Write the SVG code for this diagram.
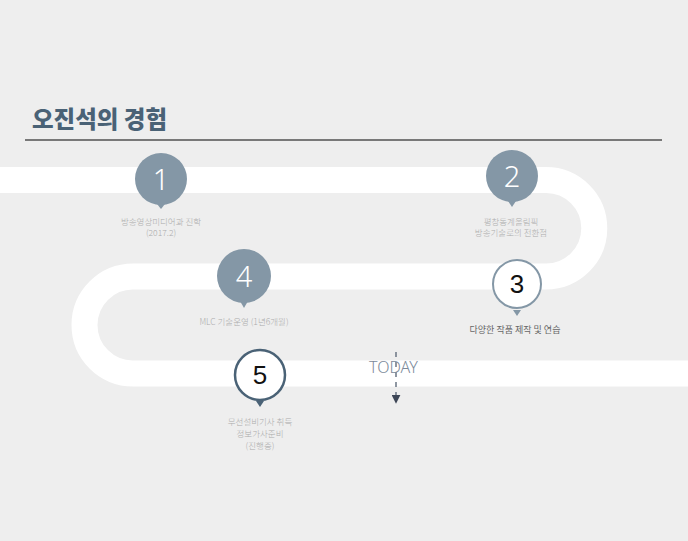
<svg xmlns="http://www.w3.org/2000/svg" width="688" height="541" viewBox="0 0 688 541">
<defs>
<style>
.title{font-family:"Noto Sans CJK KR","Noto Sans",sans-serif;font-weight:900;font-size:23.5px;fill:#4a6276}
.pinA{fill:#8497a6}
.pinB{fill:#ffffff;stroke:#8497a6;stroke-width:2}
.pinC{fill:#ffffff;stroke:#4a6276;stroke-width:2.5}
.numW{font-family:"Noto Sans","Noto Sans CJK KR",sans-serif;font-weight:300;font-size:29px;fill:#ffffff;text-anchor:middle}
.numB{font-family:"Liberation Sans","Noto Sans",sans-serif;font-size:26px;fill:#111111;text-anchor:middle}
.cap{font-family:"Noto Sans CJK KR","Noto Sans",sans-serif;font-size:8.5px;fill:#ababab;text-anchor:middle;font-weight:300}
.capD{font-family:"Noto Sans CJK KR","Noto Sans",sans-serif;font-size:9px;fill:#666666;text-anchor:middle}
.today{font-family:"Noto Sans","Liberation Sans",sans-serif;font-size:16px;fill:#7c8a9a;font-weight:300}
</style>
<marker id="arr" viewBox="0 0 10 10" refX="8" refY="5" markerWidth="9" markerHeight="9" orient="auto" markerUnits="userSpaceOnUse">
<path d="M0 0 L10 5 L0 10 Z" fill="#3d4656"/>
</marker>
</defs>
<rect width="688" height="541" fill="#eeeeee"/>
<g id="title">
<text class="title" x="32" y="128">오진석의 경험</text>
<line x1="25" y1="140" x2="662" y2="140" stroke="#787878" stroke-width="2"/>
</g>
<g id="connectors">
<path d="M0 180 H546 A48.25 48.25 0 0 1 546 276.5 H133 A48.5 48.5 0 0 0 133 373.5 H688" fill="none" stroke="#ffffff" stroke-width="26"/>
<line x1="396" y1="352" x2="396" y2="402" stroke="#6b7584" stroke-width="1.5" stroke-dasharray="5 5" marker-end="url(#arr)"/>
</g>
<g id="pin1">
<circle class="pinA" cx="161" cy="179" r="26"/>
<path class="pinA" d="M157 204 L165 204 L161 209 Z"/>
<text class="numW" x="161" y="190">1</text>
<text class="cap" x="161" y="225">방송영상미디어과 진학</text>
<text class="cap" x="161" y="236">(2017.2)</text>
</g>
<g id="pin2">
<circle class="pinA" cx="512" cy="176" r="26"/>
<path class="pinA" d="M508 201 L516 201 L512 207 Z"/>
<text class="numW" x="512" y="187">2</text>
<text class="cap" x="511" y="225">평창동계올림픽</text>
<text class="cap" x="511" y="236">방송기술로의 전환점</text>
</g>
<g id="pin3">
<circle class="pinB" cx="517" cy="284" r="24"/>
<path d="M513 310 L521 310 L517 316 Z" fill="#8497a6"/>
<text class="numB" x="517" y="293">3</text>
<text class="capD" x="515" y="333">다양한 작품 제작 및 연습</text>
</g>
<g id="pin4">
<circle class="pinA" cx="244" cy="276" r="27"/>
<path class="pinA" d="M240 301 L248 301 L244 308 Z"/>
<text class="numW" x="244" y="287">4</text>
<text class="cap" x="244" y="325">MLC 기술운영 (1년6개월)</text>
</g>
<g id="pin5">
<circle class="pinC" cx="260" cy="375" r="25"/>
<path d="M256 401 L264 401 L260 407 Z" fill="#4a6276"/>
<text class="numB" x="260" y="384">5</text>
<text class="cap" x="260" y="425">무선설비기사 취득</text>
<text class="cap" x="260" y="437">정보가사준비</text>
<text class="cap" x="260" y="449">(진행중)</text>
</g>
<g id="today">
<text class="today" x="369" y="373">TODAY</text>
</g>
</svg>
